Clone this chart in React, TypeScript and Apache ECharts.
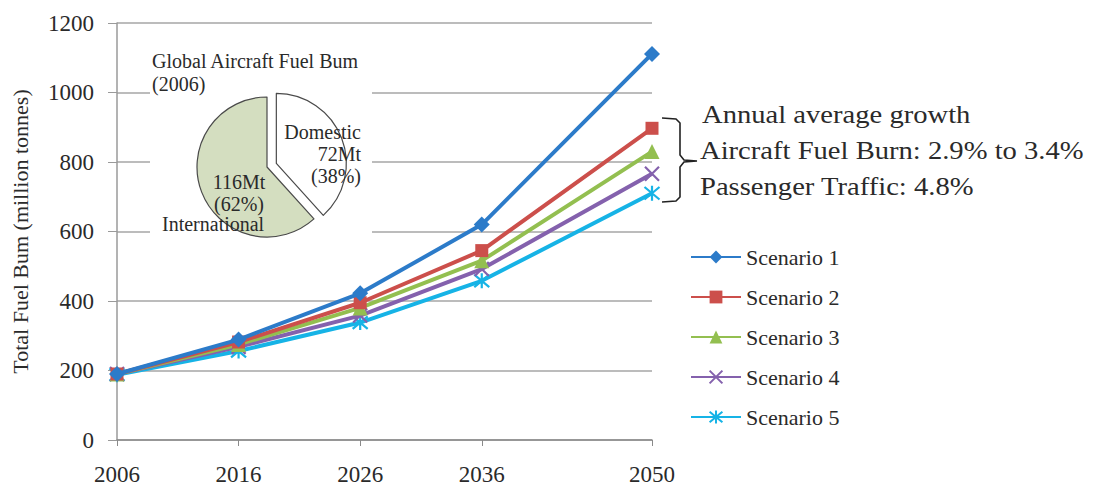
import React, { useEffect, useRef } from "react";
import * as echarts from "echarts";

const years = [2006, 2016, 2026, 2036, 2050];
const scenarioNames = ["Scenario 1", "Scenario 2", "Scenario 3", "Scenario 4", "Scenario 5"];
const scenario1 = [190, 289, 422, 620, 1111];
const scenario2 = [190, 282, 395, 545, 897];
const scenario3 = [190, 275, 380, 516, 830];
const scenario4 = [190, 268, 358, 492, 766];
const scenario5 = [188, 256, 338, 458, 710];
const yTicks = [0, 200, 400, 600, 800, 1000, 1200];

const pieNames = ["Domestic", "International"];
const pieValues = [72, 116];

const colors = ["#2c7bc9", "#cc4f4b", "#93bf50", "#8461ad", "#16b3e6"];
const FONT = "'Liberation Serif', 'Times New Roman', serif";

const xPath = "path://M0,0L10,10M10,0L0,10";
const starPath = "path://M0,1L10,11M10,1L0,11M5,0L5,12";

export default function App() {
  const ref = useRef<HTMLDivElement>(null);
  useEffect(() => {
    if (!ref.current) return;
    const chart = echarts.init(ref.current, null, { renderer: "svg" });
    const all = [scenario1, scenario2, scenario3, scenario4, scenario5];
    const symbols = ["diamond", "rect", "triangle", xPath, starPath];
    const sizes = [16, 13, 15, 14, 15];
    const total = pieValues.reduce((a, b) => a + b, 0);
    const pct = pieValues.map((v) => Math.round((v / total) * 100));

    const lineSeries = all.map((vals, i) => ({
      name: scenarioNames[i],
      type: "line",
      data: vals.map((v, j) => [years[j], v]),
      symbol: symbols[i],
      symbolSize: sizes[i],
      lineStyle: { color: colors[i], width: 4 },
      itemStyle:
        i >= 3
          ? { color: colors[i], borderColor: colors[i], borderWidth: 2.2 }
          : { color: colors[i] },
      z: 3 + (4 - i),
    }));

    const textStyle = { fontFamily: FONT, fill: "#2a2a2a" };

    chart.setOption({
      animation: false,
      backgroundColor: "#ffffff",
      textStyle: { fontFamily: FONT },
      grid: { left: 117, top: 23, right: 441, bottom: 43, containLabel: false },
      xAxis: {
        type: "value",
        min: years[0],
        max: years[years.length - 1],
        axisLine: { show: true, lineStyle: { color: "#8a8a8a", width: 1.5 } },
        axisTick: { show: true, customValues: years, length: 6, lineStyle: { color: "#8a8a8a" } },
        axisLabel: {
          customValues: years,
          fontSize: 23,
          fontFamily: FONT,
          color: "#2a2a2a",
          margin: 23,
          formatter: (v: number) => String(v),
        },
        splitLine: { show: false },
      },
      yAxis: {
        type: "value",
        min: yTicks[0],
        max: yTicks[yTicks.length - 1],
        interval: 200,
        name: "Total Fuel Bum (million tonnes)",
        nameLocation: "middle",
        nameGap: 86,
        nameTextStyle: { fontSize: 22, fontFamily: FONT, color: "#2a2a2a" },
        axisLine: { show: true, lineStyle: { color: "#9a9a9a", width: 1.5 } },
        axisTick: { show: true, inside: false, length: 9, lineStyle: { color: "#9a9a9a" } },
        axisLabel: {
          fontSize: 23,
          fontFamily: FONT,
          color: "#2a2a2a",
          margin: 23,
          formatter: (v: number) => String(v),
        },
        splitLine: { show: true, lineStyle: { color: "#a6a6a6", width: 1.5 } },
      },
      legend: {
        data: scenarioNames,
        orient: "vertical",
        left: 690,
        top: 246,
        padding: 0,
        itemWidth: 50,
        itemHeight: 16,
        itemGap: 18,
        textStyle: { fontSize: 22, fontFamily: FONT, color: "#2a2a2a" },
      },
      series: [
        ...lineSeries,
        {
          type: "pie",
          center: [267, 167],
          radius: [0, 70],
          startAngle: 90,
          clockwise: true,
          selectedMode: "single",
          selectedOffset: 10,
          label: { show: false },
          labelLine: { show: false },
          silent: true,
          z: 5,
          data: pieNames.map((n, i) => ({
            name: n,
            value: pieValues[i],
            selected: i === 0,
            itemStyle: {
              color: i === 0 ? "#ffffff" : "#d4dec0",
              borderColor: "#4a4a4a",
              borderWidth: 1.2,
            },
          })),
        },
      ],
      graphic: [
        {
          type: "rect",
          z: 1,
          shape: { x: 150, y: 44, width: 222, height: 194 },
          style: { fill: "#ffffff" },
        },
        {
          type: "text",
          z: 10,
          x: 152,
          y: 51,
          style: { ...textStyle, text: "Global Aircraft Fuel Bum", fontSize: 20 },
        },
        {
          type: "text",
          z: 10,
          x: 152,
          y: 74,
          style: { ...textStyle, text: "(2006)", fontSize: 20 },
        },
        {
          type: "text",
          z: 10,
          x: 361,
          y: 121,
          style: {
            ...textStyle,
            text: `${pieNames[0]}\n${pieValues[0]}Mt\n(${pct[0]}%)`,
            fontSize: 20,
            lineHeight: 22,
            align: "right",
          },
        },
        {
          type: "text",
          z: 10,
          x: 239,
          y: 171,
          style: {
            ...textStyle,
            text: `${pieValues[1]}Mt\n(${pct[1]}%)`,
            fontSize: 20,
            lineHeight: 22,
            align: "center",
          },
        },
        {
          type: "text",
          z: 10,
          x: 162,
          y: 214,
          style: { ...textStyle, text: pieNames[1], fontSize: 20 },
        },
        {
          type: "polyline",
          z: 10,
          shape: {
            points: [
              [662, 118],
              [676, 119],
              [680, 123],
              [680, 155],
              [684, 160],
              [697, 161],
              [684, 162],
              [680, 167],
              [680, 197],
              [676, 201],
              [662, 202],
            ],
          },
          style: { stroke: "#222", lineWidth: 1.6, fill: null },
        },
        {
          type: "text",
          z: 10,
          x: 702,
          y: 101,
          scaleX: 1.1,
          style: { ...textStyle, text: "Annual average growth", fontSize: 26 },
        },
        {
          type: "text",
          z: 10,
          x: 700,
          y: 137,
          scaleX: 1.1,
          style: { ...textStyle, text: "Aircraft Fuel Burn: 2.9% to 3.4%", fontSize: 26 },
        },
        {
          type: "text",
          z: 10,
          x: 700,
          y: 173,
          scaleX: 1.1,
          style: { ...textStyle, text: "Passenger Traffic: 4.8%", fontSize: 26 },
        },
      ],
    });
    return () => chart.dispose();
  }, []);
  return (
    <div
      ref={ref}
      style={{ position: "fixed", left: 0, top: 0, width: 1093, height: 486, background: "#fff" }}
    />
  );
}
